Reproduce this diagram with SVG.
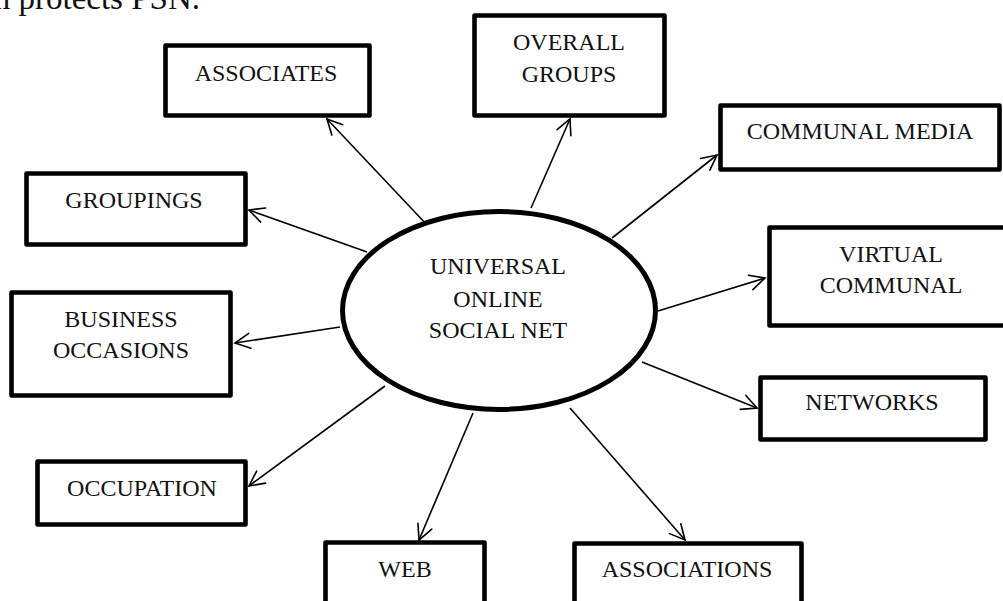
<svg xmlns="http://www.w3.org/2000/svg" width="1003" height="601" viewBox="0 0 1003 601">
  <style>
    .box { fill: #fff; stroke: #000; stroke-width: 4.6; stroke-linejoin: round; }
    .hub { fill: #fff; stroke: #000; stroke-width: 5; }
    .lbl { font-family: "Liberation Serif", "Times New Roman", serif; font-size: 24px; fill: #111; text-anchor: middle; }
    .edge { fill: none; stroke: #000; stroke-width: 1.6; marker-end: url(#arrow); }
  </style>
  <defs>
    <marker id="arrow" markerUnits="userSpaceOnUse" viewBox="-17 -9 19 18" markerWidth="19" markerHeight="18" refX="0" refY="0" orient="auto" overflow="visible">
      <path d="M-15,-7.5 L0,0 L-15,7.5" fill="none" stroke="#000" stroke-width="1.6" stroke-linecap="round" stroke-linejoin="miter"/>
    </marker>
  </defs>
  <rect width="1003" height="601" fill="#fff"/>

  <!-- tail of the preceding paragraph -->
  <text x="200" y="9" font-family="Liberation Serif, serif" font-size="33" fill="#111" text-anchor="end">n protects PSN.</text>

  <g id="connectors">
    <line class="edge" x1="428" y1="226" x2="327" y2="119"/>
    <line class="edge" x1="531" y1="208" x2="570" y2="119"/>
    <line class="edge" x1="612" y1="238" x2="717" y2="155"/>
    <line class="edge" x1="658" y1="311" x2="765" y2="278"/>
    <line class="edge" x1="642" y1="362" x2="757" y2="408"/>
    <line class="edge" x1="570" y1="408" x2="685" y2="540"/>
    <line class="edge" x1="473" y1="413" x2="419" y2="540"/>
    <line class="edge" x1="385" y1="386" x2="249" y2="486"/>
    <line class="edge" x1="340" y1="327" x2="235" y2="343"/>
    <line class="edge" x1="367" y1="252" x2="249" y2="210"/>
  </g>

  <g id="hub">
    <ellipse class="hub" cx="499" cy="310.5" rx="156.5" ry="99"/>
    <text class="lbl" x="498" y="274">UNIVERSAL</text>
    <text class="lbl" x="498" y="307">ONLINE</text>
    <text class="lbl" x="498" y="338">SOCIAL NET</text>
  </g>

  <g id="associates">
    <rect class="box" x="165.5" y="45.5" width="204" height="70"/>
    <text class="lbl" x="266" y="81">ASSOCIATES</text>
  </g>

  <g id="overall-groups">
    <rect class="box" x="474.5" y="15.5" width="190" height="100"/>
    <text class="lbl" x="569" y="50">OVERALL</text>
    <text class="lbl" x="569" y="82">GROUPS</text>
  </g>

  <g id="communal-media">
    <rect class="box" x="720.5" y="105.5" width="279" height="64"/>
    <text class="lbl" x="860" y="139">COMMUNAL MEDIA</text>
  </g>

  <g id="virtual-communal">
    <rect class="box" x="769.5" y="227.5" width="245" height="98"/>
    <text class="lbl" x="891" y="262">VIRTUAL</text>
    <text class="lbl" x="891" y="293">COMMUNAL</text>
  </g>

  <g id="networks">
    <rect class="box" x="760.5" y="377.5" width="225" height="62"/>
    <text class="lbl" x="872" y="410">NETWORKS</text>
  </g>

  <g id="associations">
    <rect class="box" x="574.5" y="543.5" width="227" height="70"/>
    <text class="lbl" x="687" y="577">ASSOCIATIONS</text>
  </g>

  <g id="web">
    <rect class="box" x="325.5" y="542.5" width="159" height="70"/>
    <text class="lbl" x="405" y="577">WEB</text>
  </g>

  <g id="occupation">
    <rect class="box" x="37.5" y="461.5" width="208" height="63"/>
    <text class="lbl" x="142" y="496">OCCUPATION</text>
  </g>

  <g id="business-occasions">
    <rect class="box" x="11.5" y="292.5" width="219" height="103"/>
    <text class="lbl" x="121" y="327">BUSINESS</text>
    <text class="lbl" x="121" y="358">OCCASIONS</text>
  </g>

  <g id="groupings">
    <rect class="box" x="26.5" y="173.5" width="219" height="71"/>
    <text class="lbl" x="134" y="208">GROUPINGS</text>
  </g>
</svg>
